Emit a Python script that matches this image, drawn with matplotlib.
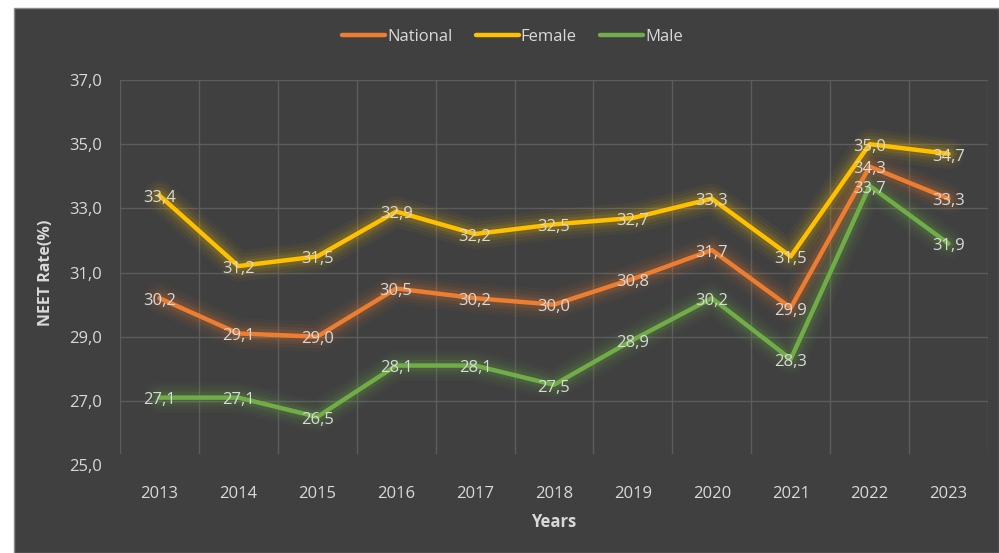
import matplotlib
matplotlib.use("Agg")
import matplotlib.pyplot as plt
from matplotlib.patches import Rectangle

years = [2013, 2014, 2015, 2016, 2017, 2018, 2019, 2020, 2021, 2022, 2023]
national = [30.2, 29.1, 29.0, 30.5, 30.2, 30.0, 30.8, 31.7, 29.9, 34.3, 33.3]
female = [33.4, 31.2, 31.5, 32.9, 32.2, 32.5, 32.7, 33.3, 31.5, 35.0, 34.7]
male = [27.1, 27.1, 26.5, 28.1, 28.1, 27.5, 28.9, 30.2, 28.3, 33.7, 31.9]
y_ticks = [25, 27, 29, 31, 33, 35, 37]

series = [
    ("National", national, "#ED7D31"),
    ("Female", female, "#FFC000"),
    ("Male", male, "#70AD47"),
]

BG = "#404040"
GRID = "#5c5c5c"
TEXT = "#d9d9d9"

plt.rcParams["font.family"] = ["Open Sans", "DejaVu Sans"]

fig = plt.figure(figsize=(9.99, 5.53), dpi=100, facecolor="white")
fig.patches.append(Rectangle((14 / 999, 0), 1 - 14 / 999, 1 - 8 / 553,
                             transform=fig.transFigure, facecolor=BG,
                             edgecolor="#8a8a8a", linewidth=1.0, zorder=-10))

ax = fig.add_axes([120 / 999, 1 - 465 / 553, (988 - 120) / 999, (465 - 80) / 553])
ax.set_facecolor(BG)
ax.patch.set_alpha(0)

x = list(range(len(years)))
ax.set_xlim(-0.5, len(years) - 0.5)
ax.set_ylim(25, 37)

# grid: horizontal value lines and vertical category separators
for yv in y_ticks[1:]:
    ax.axhline(yv, color=GRID, lw=1.0, zorder=1)
for i in range(len(years) + 1):
    ax.axvline(i - 0.5, ymin=0.03, ymax=1, color=GRID, lw=1.0, zorder=1)

for name, vals, col in series:
    # soft glow beneath each line
    for w, a in [(22, 0.04), (17, 0.06), (12, 0.08), (8, 0.12)]:
        ax.plot(x, vals, color=col, lw=w, alpha=a, solid_capstyle="round",
                solid_joinstyle="round", zorder=2)
    ax.plot(x, vals, color=col, lw=3.2, solid_joinstyle="round",
            solid_capstyle="round", zorder=3, label=name)

for name, vals, col in series:
    for xi, v in zip(x, vals):
        ax.annotate(f"{v:.1f}".replace(".", ","), (xi, v), xytext=(0, -2),
                    textcoords="offset points", ha="center", va="center",
                    color=TEXT, fontsize=12, zorder=5)

for s in ax.spines.values():
    s.set_visible(False)

ax.set_xticks(x)
ax.set_xticklabels([str(y) for y in years], color=TEXT, fontsize=12)
ax.set_yticks(y_ticks)
ax.set_yticklabels([f"{v:.1f}".replace(".", ",") for v in y_ticks], color=TEXT, fontsize=12)
ax.tick_params(axis="x", length=0, pad=15)
ax.tick_params(axis="y", length=0, pad=13)

ax.set_xlabel("Years", color=TEXT, fontsize=12, fontweight="bold", labelpad=8)
ax.set_ylabel("NEET Rate(%)", color=TEXT, fontsize=11.5, fontweight="bold", labelpad=11)

leg = ax.legend(loc="center", bbox_to_anchor=(0.452, 1.112), ncol=3, frameon=False,
                fontsize=12, handlelength=2.6, handletextpad=0.1, columnspacing=1.4)
for t in leg.get_texts():
    t.set_color(TEXT)

fig.savefig("out.png", dpi=100, facecolor=fig.get_facecolor())
